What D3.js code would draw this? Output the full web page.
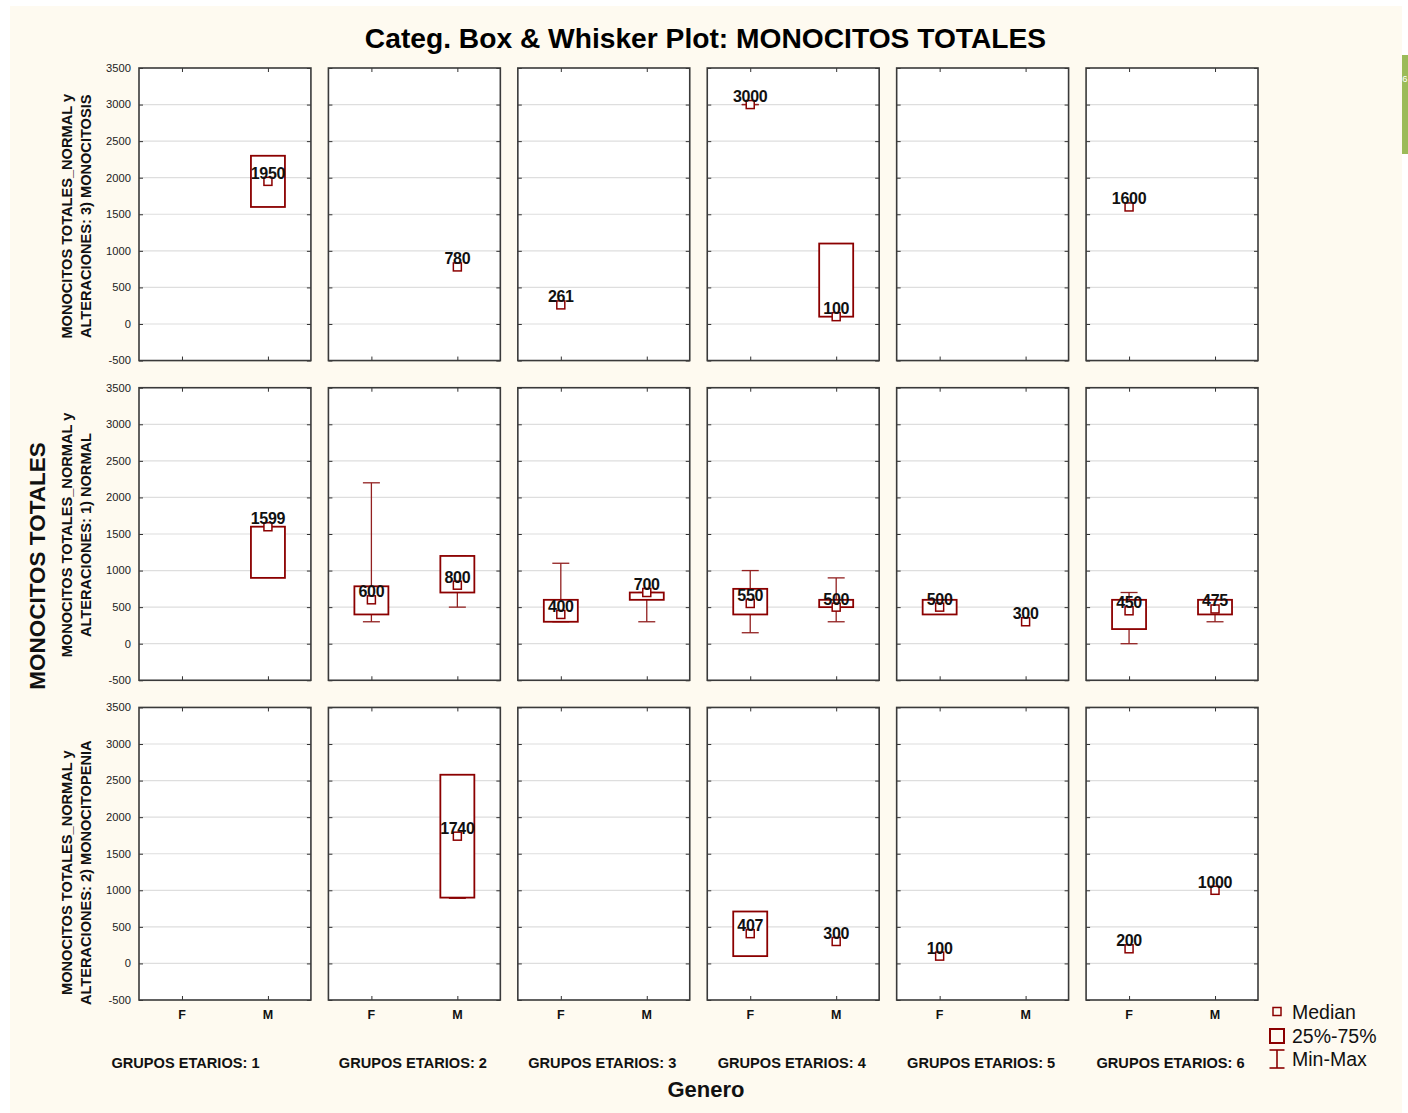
<!DOCTYPE html>
<html>
<head>
<meta charset="utf-8">
<script src="https://cdn.jsdelivr.net/npm/d3@7"></script>
<style>
  body { margin: 0; background: #ffffff; }
  svg { display: block; font-family: "Liberation Sans", Arial, sans-serif; }
</style>
</head>
<body>
<script>
// ---------- data ----------
const rowNames = ["3) MONOCITOSIS", "1) NORMAL", "2) MONOCITOPENIA"];
const groups = ["1", "2", "3", "4", "5", "6"];
const genders = ["F", "M"];
const yTicks = [-500, 0, 500, 1000, 1500, 2000, 2500, 3000, 3500];

// one entry per plotted box (row index, group, gender)
const boxRow    = [0, 0, 0, 0, 0, 0, 1, 1, 1, 1, 1, 1, 1, 1, 1, 1, 1, 2, 2, 2, 2, 2, 2];
const boxGroup  = ["1","2","3","4","4","6","1","2","2","3","3","4","4","5","5","6","6","2","4","4","5","6","6"];
const boxGender = ["M","M","F","F","M","F","M","F","M","F","M","F","M","F","M","F","M","M","F","M","F","F","M"];
const boxMedian = [1950, 780, 261, 3000, 100, 1600, 1599, 600, 800, 400, 700, 550, 500, 500, 300, 450, 475, 1740, 407, 300, 100, 200, 1000];
const boxQ1     = [1600, null, null, null, 100, null, 900, 400, 700, 300, 600, 400, 500, 400, null, 200, 400, 900, 100, null, null, null, null];
const boxQ3     = [2300, null, null, null, 1100, null, 1600, 785, 1200, 600, 700, 750, 600, 600, null, 600, 600, 2580, 710, null, null, null, null];
const boxMin    = [null, null, null, 3000, null, null, null, 300, 500, 300, 300, 150, 300, null, null, 0, 300, 890, null, null, null, null, null];
const boxMax    = [null, null, null, 3000, null, null, null, 2200, 1200, 1100, 700, 1000, 900, null, null, 700, 600, 2580, null, null, null, null, null];

const title = "Categ. Box & Whisker Plot: MONOCITOS TOTALES";
const yTitle = "MONOCITOS TOTALES";
const xTitle = "Genero";
const rowLabelLine1 = "MONOCITOS TOTALES_NORMAL y";
const rowLabelPrefix = "ALTERACIONES: ";
const groupLabelPrefix = "GRUPOS ETARIOS: ";
const legendItems = ["Median", "25%-75%", "Min-Max"];

// ---------- layout ----------
const W = 1408, H = 1113;
const boxColor = "#8b0000";
const whiskerColor = "#922020";

const svg = d3.select("body").append("svg").attr("width", W).attr("height", H);

svg.append("rect").attr("x", 10).attr("y", 6).attr("width", 1392).attr("height", H - 6)
  .attr("fill", "#fefaf0");
svg.append("rect").attr("x", 1402).attr("y", 55).attr("width", 6).attr("height", 99)
  .attr("fill", "#9bbb59");
svg.append("text").attr("x", 1402.3).attr("y", 82).attr("font-size", 9.5).attr("fill", "#ffffff").text("6");

const xGroup = d3.scaleBand().domain(groups).range([139, 1258]).paddingInner(0.0924).paddingOuter(0);
const yRow = d3.scaleBand().domain(d3.range(rowNames.length)).range([68, 1000]).paddingInner(0.085).paddingOuter(0);
const pw = xGroup.bandwidth(), ph = yRow.bandwidth();
const xGender = d3.scalePoint().domain(genders).range([0, pw]).padding(0.5);
const y = d3.scaleLinear().domain([-500, 3500]).range([ph, 0]);

// title
svg.append("text").attr("x", 705.5).attr("y", 48).attr("text-anchor", "middle")
  .attr("font-size", 28.2).attr("font-weight", "bold").attr("fill", "#000").text(title);

// panels
const boxes = boxMedian.map((m, i) => ({
  row: boxRow[i], group: boxGroup[i], gender: boxGender[i],
  median: m, q1: boxQ1[i], q3: boxQ3[i], min: boxMin[i], max: boxMax[i]
}));

rowNames.forEach((rn, r) => {
  groups.forEach((g, gi) => {
    const p = svg.append("g").attr("transform", `translate(${xGroup(g)},${yRow(r)})`);
    p.append("rect").attr("width", pw).attr("height", ph).attr("fill", "#ffffff");
    // gridlines
    p.selectAll("line.grid").data(yTicks.slice(1, -1)).join("line")
      .attr("x1", 0).attr("x2", pw).attr("y1", d => y(d)).attr("y2", d => y(d))
      .attr("stroke", "#dedede").attr("stroke-width", 1.2);
    // inward ticks on all four sides
    const yAxL = d3.axisLeft(y).tickValues(yTicks).tickSize(-4).tickFormat("");
    const yAxR = d3.axisRight(y).tickValues(yTicks).tickSize(-4).tickFormat("");
    p.append("g").call(yAxL).call(s => s.select(".domain").remove()).selectAll("line").attr("stroke", "#333");
    p.append("g").attr("transform", `translate(${pw},0)`).call(yAxR)
      .call(s => s.select(".domain").remove()).selectAll("line").attr("stroke", "#333");
    const xAxT = d3.axisTop(xGender).tickSize(-4).tickFormat("");
    const xAxB = d3.axisBottom(xGender).tickSize(-4).tickFormat("");
    p.append("g").call(xAxT).call(s => s.select(".domain").remove()).selectAll("line").attr("stroke", "#333");
    p.append("g").attr("transform", `translate(0,${ph})`).call(xAxB)
      .call(s => s.select(".domain").remove()).selectAll("line").attr("stroke", "#333");

    // y tick labels, first column only
    if (gi === 0) {
      p.selectAll("text.yt").data(yTicks).join("text")
        .attr("x", -8).attr("y", d => y(d)).attr("dy", "0.35em").attr("text-anchor", "end")
        .attr("font-size", 11.2).attr("fill", "#222").text(d => d);
    }
    // x labels, last row only
    if (r === rowNames.length - 1) {
      p.selectAll("text.xt").data(genders).join("text")
        .attr("x", d => xGender(d)).attr("y", ph + 19).attr("text-anchor", "middle")
        .attr("font-size", 12.5).attr("font-weight", "bold").attr("fill", "#111").text(d => d);
    }

    // boxes
    const cell = boxes.filter(b => b.row === r && b.group === g);
    const bw = 34, cw = 17, ms = 8;
    cell.forEach(b => {
      const cx = xGender(b.gender);
      const wg = p.append("g").attr("stroke", whiskerColor).attr("stroke-width", 1.3).attr("fill", "none");
      if (b.min !== null && b.max !== null) {
        const lo = b.q1 !== null ? b.q1 : b.median;
        const hi = b.q3 !== null ? b.q3 : b.median;
        wg.append("line").attr("x1", cx).attr("x2", cx).attr("y1", y(b.min)).attr("y2", y(lo));
        wg.append("line").attr("x1", cx).attr("x2", cx).attr("y1", y(hi)).attr("y2", y(b.max));
        wg.append("line").attr("x1", cx - cw / 2).attr("x2", cx + cw / 2).attr("y1", y(b.min)).attr("y2", y(b.min));
        wg.append("line").attr("x1", cx - cw / 2).attr("x2", cx + cw / 2).attr("y1", y(b.max)).attr("y2", y(b.max));
      }
      if (b.q1 !== null && b.q3 !== null) {
        p.append("rect").attr("x", cx - bw / 2).attr("y", y(b.q3))
          .attr("width", bw).attr("height", y(b.q1) - y(b.q3))
          .attr("fill", "#ffffff").attr("stroke", boxColor).attr("stroke-width", 1.8);
      }
      p.append("rect").attr("x", cx - ms / 2).attr("y", y(b.median) - ms / 2)
        .attr("width", ms).attr("height", ms)
        .attr("fill", "#ffffff").attr("stroke", boxColor).attr("stroke-width", 1.5);
      p.append("text").attr("x", cx).attr("y", y(b.median) - 2.5).attr("text-anchor", "middle")
        .attr("font-size", 16).attr("font-weight", "bold").attr("fill", "#111")
        .attr("letter-spacing", -0.3).text(b.median);
    });

    p.append("rect").attr("width", pw).attr("height", ph).attr("fill", "none")
      .attr("stroke", "#3a3a3a").attr("stroke-width", 1.6);
  });

  // row labels
  const shift = [2, 1, 19][r];
  const cy = yRow(r) + ph / 2 + shift;
  [rowLabelLine1, rowLabelPrefix + rn].forEach((t, li) => {
    svg.append("text").attr("transform", `translate(${[71.5, 90.5][li]},${cy}) rotate(-90)`)
      .attr("text-anchor", "middle").attr("font-size", 14.6).attr("font-weight", "bold")
      .attr("fill", "#111").text(t);
  });
});

// group labels
groups.forEach((g, gi) => {
  const shift = gi === 0 ? -39.5 : -1.5;
  svg.append("text").attr("x", xGroup(g) + pw / 2 + shift).attr("y", 1068)
    .attr("text-anchor", "middle").attr("font-size", 14.6).attr("font-weight", "bold")
    .attr("fill", "#111").text(groupLabelPrefix + g);
});

// axis titles
svg.append("text").attr("x", 706).attr("y", 1097).attr("text-anchor", "middle")
  .attr("font-size", 22).attr("font-weight", "bold").attr("fill", "#111").text(xTitle);
svg.append("text").attr("transform", "translate(45,566) rotate(-90)").attr("text-anchor", "middle")
  .attr("font-size", 22.5).attr("font-weight", "bold").attr("fill", "#111").text(yTitle);

// legend
const lg = svg.append("g").attr("transform", "translate(1277,0)");
lg.append("rect").attr("x", -4).attr("y", 1007.5).attr("width", 8).attr("height", 8)
  .attr("fill", "none").attr("stroke", boxColor).attr("stroke-width", 1.5);
lg.append("rect").attr("x", -7).attr("y", 1029).attr("width", 14).attr("height", 14)
  .attr("fill", "none").attr("stroke", boxColor).attr("stroke-width", 2);
lg.append("line").attr("x1", 0).attr("x2", 0).attr("y1", 1050).attr("y2", 1068)
  .attr("stroke", boxColor).attr("stroke-width", 1.6);
lg.append("line").attr("x1", -7.5).attr("x2", 7.5).attr("y1", 1050).attr("y2", 1050)
  .attr("stroke", boxColor).attr("stroke-width", 1.6);
lg.append("line").attr("x1", -7.5).attr("x2", 7.5).attr("y1", 1068).attr("y2", 1068)
  .attr("stroke", boxColor).attr("stroke-width", 1.6);
lg.selectAll("text").data(legendItems).join("text")
  .attr("x", 15).attr("y", (d, i) => [1019, 1043, 1066][i])
  .attr("font-size", 19.5).attr("fill", "#111").text(d => d);
</script>
</body>
</html>
